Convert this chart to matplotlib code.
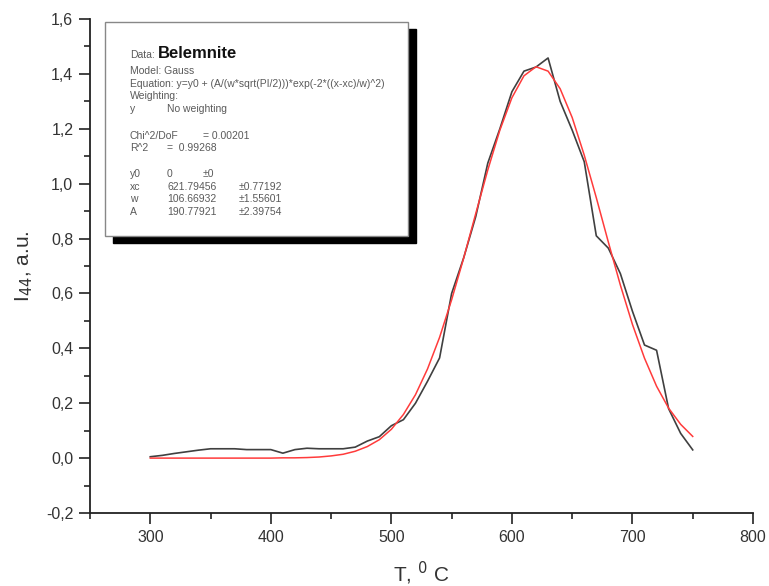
import matplotlib
matplotlib.use("Agg")
import matplotlib.pyplot as plt
from matplotlib.patches import Rectangle
from matplotlib.ticker import MultipleLocator, FuncFormatter

plt.rcParams['font.family'] = ['Liberation Sans', 'DejaVu Sans']

# Measured data (black)
temp = [300, 310, 320, 330, 340, 350, 360, 370, 380, 390,
        400, 410, 420, 430, 440, 450, 460, 470, 480, 490,
        500, 510, 520, 530, 540, 550, 560, 570, 580, 590,
        600, 610, 620, 630, 640, 650, 660, 670, 680, 690,
        700, 710, 720, 730, 740, 750]
intensity = [0.005, 0.010, 0.017, 0.023, 0.029, 0.034, 0.034, 0.034, 0.031, 0.031,
             0.031, 0.018, 0.031, 0.036, 0.034, 0.034, 0.034, 0.040, 0.062, 0.078,
             0.118, 0.140, 0.200, 0.280, 0.365, 0.600, 0.730, 0.880, 1.075, 1.200,
             1.335, 1.410, 1.425, 1.458, 1.300, 1.195, 1.080, 0.810, 0.765, 0.672,
             0.535, 0.412, 0.393, 0.180, 0.090, 0.030]

# Fitted Gauss curve (red)
fit = [0.000, 0.000, 0.000, 0.000, 0.000, 0.000, 0.000, 0.000, 0.000, 0.000,
       0.000, 0.001, 0.001, 0.002, 0.004, 0.008, 0.014, 0.025, 0.042, 0.067,
       0.105, 0.159, 0.231, 0.325, 0.440, 0.577, 0.729, 0.891, 1.050, 1.195,
       1.313, 1.393, 1.426, 1.410, 1.346, 1.241, 1.104, 0.949, 0.787, 0.630,
       0.487, 0.364, 0.262, 0.182, 0.123, 0.079]

W, H = 769, 586
fig = plt.figure(figsize=(W / 100, H / 100), dpi=100)
ax = fig.add_axes([90 / W, 1 - 513 / H, (753 - 90) / W, (513 - 19) / H])

ax.plot(temp, intensity, color='#404040', lw=1.2, zorder=3)
ax.plot(temp, fit, color='#ff3b3b', lw=1.1, zorder=4)

ax.set_xlim(250, 800)
ax.set_ylim(-0.2, 1.6)
ax.spines['top'].set_visible(False)
ax.spines['right'].set_visible(False)
for s in ('left', 'bottom'):
    ax.spines[s].set_linewidth(1.3)
    ax.spines[s].set_color('#222222')

ax.xaxis.set_major_locator(MultipleLocator(100))
ax.xaxis.set_minor_locator(MultipleLocator(50))
ax.yaxis.set_major_locator(MultipleLocator(0.2))
ax.yaxis.set_minor_locator(MultipleLocator(0.1))
ax.yaxis.set_major_formatter(FuncFormatter(lambda v, p: f"{v:.1f}".replace('.', ',').replace('-0,0', '0,0')))
ax.xaxis.set_major_formatter(FuncFormatter(lambda v, p: "" if v < 300 else f"{int(v)}"))
ax.tick_params(which='major', direction='out', length=8, width=1.2, color='#222222',
               labelsize=11.5, labelcolor='#333333', pad=4)
ax.tick_params(which='minor', direction='out', length=4.5, width=1.2, color='#222222')

ax.set_xlabel(r'T, $^{0}$ C', fontsize=15, color='#333333', labelpad=11)
ax.set_ylabel(r'I$_{44}$, a.u.', fontsize=15, color='#333333', labelpad=8)

# Text box with shadow
fig.add_artist(Rectangle((113 / W, 1 - 243 / H), 303 / W, 214 / H,
                         transform=fig.transFigure, facecolor='black', edgecolor='black', zorder=5))
fig.add_artist(Rectangle((105 / W, 1 - 236 / H), 303 / W, 214 / H,
                         transform=fig.transFigure, facecolor='white', edgecolor='#888888',
                         lw=1.0, zorder=6))

tc = '#5a5a5a'
fs = 7.5

def t(x, y, s, **kw):
    kw.setdefault('fontsize', fs)
    kw.setdefault('color', tc)
    kw.setdefault('va', 'center')
    fig.text(x / W, 1 - y / H, s, zorder=7, **kw)

t(130, 58, 'Data:', va='baseline')
t(158, 58, 'Belemnite', fontsize=12, fontweight='bold', color='#111111', va='baseline')
t(130, 71, 'Model: Gauss')
t(130, 84, 'Equation: y=y0 + (A/(w*sqrt(PI/2)))*exp(-2*((x-xc)/w)^2)')
t(130, 96, 'Weighting:')
t(130, 109, 'y')
t(167, 109, 'No weighting')
t(130, 136, 'Chi^2/DoF')
t(203, 136, '= 0.00201')
t(130, 148, 'R^2')
t(167, 148, '=  0.99268')
t(130, 174, 'y0')
t(167, 174, '0')
t(203, 174, '±0')
t(130, 187, 'xc')
t(167, 187, '621.79456')
t(239, 187, '±0.77192')
t(130, 199, 'w')
t(167, 199, '106.66932')
t(239, 199, '±1.55601')
t(130, 212, 'A')
t(167, 212, '190.77921')
t(239, 212, '±2.39754')

fig.savefig('out.png', dpi=100)
